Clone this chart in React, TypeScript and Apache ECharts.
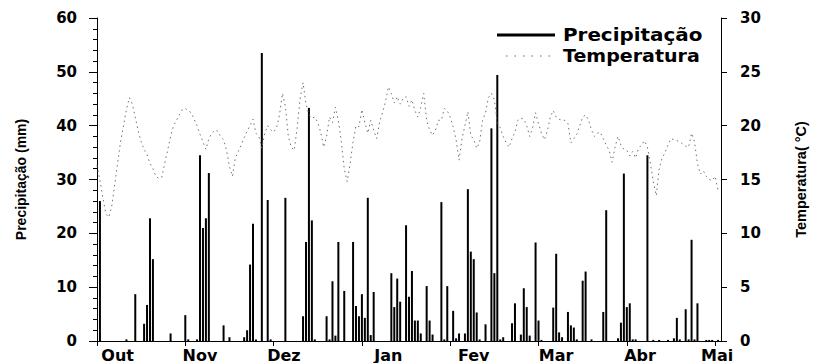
import React, { useEffect, useRef } from "react";
import * as echarts from "echarts";

// Month axis
const monthLabels = ["Out", "Nov", "Dez", "Jan", "Fev", "Mar", "Abr", "Mai"];
const monthTickDays = [0, 30, 60, 90, 120, 150, 180, 210];
const monthLabelDays = [7, 35, 63.5, 99, 128, 156, 184.5, 210.7];

// Daily precipitation (days since 1 Oct, mm)
const precipDays = [
  1, 10, 13, 16, 17, 18, 19, 25, 30, 31, 34, 35, 36, 37, 38, 43, 45, 50, 51, 52,
  53, 54, 56, 58, 59, 64, 70, 71, 72, 73, 74, 78, 79, 80, 81, 82, 84, 87, 88, 89,
  90, 91, 92, 93, 94, 100, 101, 102, 103, 105, 106, 107, 108, 109, 110, 112, 113,
  114, 117, 118, 119, 121, 122, 123, 125, 126, 127, 128, 129, 130, 132, 134, 135,
  136, 137, 138, 141, 142, 144, 145, 146, 147, 149, 150, 151, 155, 156, 157, 158,
  160, 161, 162, 163, 165, 166, 168, 172, 173, 177, 178, 179, 180, 181, 182, 183,
  187, 189, 191, 194, 196, 197, 198, 200, 201, 202, 203, 204, 207, 208, 209, 211,
];
const precipMm = [
  26, 0.3, 8.7, 3.2, 6.7, 22.8, 15.2, 1.4, 4.8, 0.3, 0.3, 34.5, 21, 22.8, 31.2, 2.9, 0.7, 0.7, 2, 14.2,
  21.8, 0.3, 53.5, 26.2, 0.3, 26.6, 4.6, 18.4, 43.3, 22.4, 0.3, 4.6, 0.3, 11.1, 1, 18.4, 9.3, 18.4, 6.5, 4.6,
  8.7, 4.3, 26.6, 1.1, 9.1, 12.6, 6.3, 11.6, 7.3, 21.5, 8.2, 13, 3.8, 3.8, 1.4, 10.2, 3.8,
  1.2, 25.8, 0.3, 10.2, 5.6, 0.5, 1.4, 1.4, 28.2, 16.6, 15.2, 5.3, 0.3, 3.1, 39.5, 12.6,
  49.4, 0.3, 0.7, 3.3, 7, 1.2, 9.8, 6.3, 1, 18.3, 3.8, 0.2, 6.2, 16.2, 1.6, 0.7,
  5.4, 2.9, 2.5, 0.3, 11.2, 12.9, 0.3, 5.4, 24.3, 0.5, 3.4, 31.1, 6.3, 7, 0.3, 0.3,
  34.5, 0.2, 0.2, 0.2, 0.5, 4.3, 0.3, 5.9, 0.3, 18.8, 0.3, 7, 0.2, 0.2, 0.2, 0.2,
];

// Daily mean temperature (°C), day 0 = 1 Oct
const tempC = [
  16.3, 14.9, 13.3, 11.8, 11.5, 12.5, 14.5, 16.5, 18.5, 20, 21.5, 22.6, 22, 20.8, 19.5, 18.5, 17.8, 17.3, 16.5, 16,
  15.3, 15.1, 15.2, 16.5, 17.7, 19, 20, 20.5, 21, 21.5, 21.6, 21.4, 21.2, 20.6, 20, 19.2, 18.5, 17.8, 18.8, 19.3,
  19.6, 19.5, 19, 18.7, 17.7, 16.2, 15.3, 17, 17.6, 18.2, 18.9, 19.5, 20, 20.6, 19.3, 19, 17.9, 19.3, 20, 19.6,
  19.4, 19.8, 21, 23, 21.8, 19, 18, 17.7, 19.8, 22.5, 24, 22, 21, 20.7, 20.8, 20.3, 19.4, 18, 19, 20.8,
  20.3, 21.7, 20.5, 18.5, 16, 14.8, 16.5, 18.5, 20, 19.9, 21.5, 20.3, 19.3, 20.5, 19.6, 18.8, 20.3, 21.2, 22.2, 23.6,
  23, 22.1, 22.7, 22, 22.5, 22.7, 21.8, 22.4, 21.4, 20.8, 21.7, 23, 20.5, 19.6, 19.1, 19.6, 20.5, 20.5, 21.6, 21.4,
  20.8, 19.9, 18.7, 16.8, 18.8, 20, 21.3, 19.1, 18.7, 17.9, 18.5, 20.5, 21.2, 22.6, 23, 22.4, 20.3, 19.8, 19, 18.4,
  18, 18.8, 19.4, 20.5, 20.7, 20.6, 20, 19, 19.8, 21.2, 20.2, 19.3, 18.7, 19.5, 20.8, 21.4, 20.8, 20.6, 20.5, 20.5,
  20.2, 18.4, 18.8, 19.2, 20, 20.8, 21, 20.5, 19.6, 19, 19.3, 19.4, 18.8, 18.2, 17.7, 16.6, 18, 19, 18.2, 17.8,
  17.7, 17.2, 17.6, 17, 17.9, 18.2, 18.6, 18, 16.5, 14.8, 13.5, 16, 17, 17.5, 18.2, 18.8, 18.7, 18.6, 18.5, 18.3,
  18.1, 18, 19.3, 18.5, 16.5, 15.5, 15.8, 15.3, 15, 14.9, 15.3, 14,
];

const FONT = "DejaVu Sans";

export default function App() {
  const ref = useRef<HTMLDivElement>(null);
  useEffect(() => {
    const chart = echarts.init(ref.current!, null, { renderer: "svg" });
    const barData = precipDays.map((d, i) => [d, precipMm[i]]);
    const lineData = tempC.map((t, i) => [i, t]);
    const labelStyle = { fontFamily: FONT, fontWeight: "bold" as const, fontSize: 15, color: "#000" };
    chart.setOption({
      animation: false,
      backgroundColor: "#fff",
      grid: { left: 97, right: 100, top: 18, bottom: 22 },
      xAxis: {
        type: "value",
        min: 0,
        max: 212,
        interval: 30,
        splitLine: { show: false },
        axisLine: { show: true, lineStyle: { color: "#000", width: 1 } },
        axisTick: { show: true, inside: false, length: 5, customValues: monthTickDays, lineStyle: { color: "#000" } },
        axisLabel: {
          ...labelStyle,
          fontSize: 16,
          margin: 6,
          customValues: monthLabelDays,
          formatter: (v: number) => {
            const i = monthLabelDays.findIndex((d) => Math.abs(d - v) < 0.01);
            return i >= 0 ? monthLabels[i] : "";
          },
        },
      },
      yAxis: [
        {
          type: "value",
          min: 0,
          max: 60,
          interval: 10,
          position: "left",
          name: "Precipitação (mm)",
          nameLocation: "middle",
          nameGap: 69,
          nameTextStyle: { fontFamily: "Liberation Sans", fontWeight: "bold", fontSize: 14, color: "#000" },
          splitLine: { show: false },
          axisLine: { show: true, lineStyle: { color: "#000", width: 1 } },
          axisTick: { show: true, inside: false, length: 8, lineStyle: { color: "#000" } },
          minorTick: { show: true, splitNumber: 5, length: 4, lineStyle: { color: "#000" } },
          axisLabel: { ...labelStyle, margin: 20 },
        },
        {
          type: "value",
          min: 0,
          max: 30,
          interval: 5,
          position: "right",
          name: "Temperatura( °C)",
          nameLocation: "middle",
          nameGap: 72,
          nameRotate: 90,
          nameTextStyle: { fontFamily: "Liberation Sans", fontWeight: "bold", fontSize: 14.5, color: "#000" },
          splitLine: { show: false },
          axisLine: { show: true, lineStyle: { color: "#000", width: 1 } },
          axisTick: { show: true, inside: false, length: 6, lineStyle: { color: "#000" } },
          axisLabel: { ...labelStyle, margin: 19 },
        },
      ],
      series: [
        {
          name: "Precipitação",
          type: "bar",
          yAxisIndex: 0,
          data: barData,
          barWidth: 2,
          itemStyle: { color: "#000" },
        },
        {
          name: "Temperatura",
          type: "line",
          yAxisIndex: 1,
          data: lineData,
          showSymbol: false,
          symbol: "none",
          lineStyle: { color: "#707070", width: 1, type: [1.5, 3.5] },
        },
      ],
      graphic: [
        { type: "line", shape: { x1: 497, y1: 35, x2: 555, y2: 35 }, style: { stroke: "#000", lineWidth: 3 } },
        {
          type: "text",
          x: 563,
          y: 35,
          scaleX: 1.17,
          style: { text: "Precipitação", fontFamily: FONT, fontWeight: "bold", fontSize: 17, fill: "#000", textVerticalAlign: "middle", textAlign: "left" },
        },
        {
          type: "line",
          shape: { x1: 506, y1: 56, x2: 552, y2: 56 },
          style: { stroke: "#666", lineWidth: 1, lineDash: [1.5, 7] },
        },
        {
          type: "text",
          x: 563,
          y: 56,
          scaleX: 1.12,
          style: { text: "Temperatura", fontFamily: FONT, fontWeight: "bold", fontSize: 17, fill: "#000", textVerticalAlign: "middle", textAlign: "left" },
        },
      ],
    });
    return () => chart.dispose();
  }, []);
  return <div ref={ref} style={{ position: "fixed", left: 0, top: 0, width: 821, height: 363 }} />;
}
